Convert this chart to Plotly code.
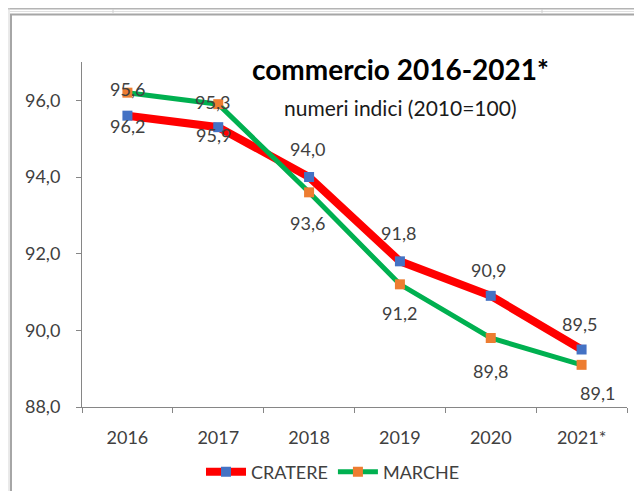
import plotly.graph_objects as go

years = ["2016", "2017", "2018", "2019", "2020", "2021*"]
cratere = [95.6, 95.3, 94.0, 91.8, 90.9, 89.5]
marche = [96.2, 95.9, 93.6, 91.2, 89.8, 89.1]
cratere_labels = ["96,2", "95,9", "94,0", "91,8", "90,9", "89,5"]
marche_labels = ["95,6", "95,3", "93,6", "91,2", "89,8", "89,1"]
y_ticks = [88, 90, 92, 94, 96]

# label offsets in pixels (style only)
cratere_dy = [-10, -8, 28, 28, 26, 26]
cratere_dx = [0, -5, -2, -1, -2, -2]
marche_dy = [4, 2, -31, -29, -33, -28]
marche_dx = [0, -6, -2, 0, 0, 16]

OFF = 8  # page body margin
W, H = 642 - OFF, 491 - OFF
# plot area in screen pixels
SL, SR, ST, SB = 82, 627, 62, 407
L, R, T, B = SL - OFF, SR - OFF, ST - OFF, SB - OFF

def px(x):
    return (x - SL) / (SR - SL)

def py(y):
    return (SB - y) / (SB - ST)

FONT = "Lato, 'Open Sans', sans-serif"
TXT = "#404040"
FS = 18

fig = go.Figure()
fig.add_trace(go.Scatter(
    x=years, y=cratere, name="CRATERE", mode="lines+markers",
    line=dict(color="#FF0000", width=8),
    marker=dict(symbol="square", size=10, color="#4472C4"),
))
fig.add_trace(go.Scatter(
    x=years, y=marche, name="MARCHE", mode="lines+markers",
    line=dict(color="#00B050", width=5),
    marker=dict(symbol="square", size=10, color="#ED7D31"),
))

ann = []
for i in range(len(years)):
    ann.append(dict(x=i, y=cratere[i], text=cratere_labels[i], showarrow=False,
                    xshift=cratere_dx[i], yshift=cratere_dy[i],
                    font=dict(family=FONT, size=FS, color=TXT)))
    ann.append(dict(x=i, y=marche[i], text=marche_labels[i], showarrow=False,
                    xshift=marche_dx[i], yshift=marche_dy[i],
                    font=dict(family=FONT, size=FS, color=TXT)))

ann.append(dict(xref="paper", yref="paper", x=px(400), y=py(50), text="<b>commercio 2016-2021*</b>",
                showarrow=False, font=dict(family=FONT, size=28, color="#000000")))
ann.append(dict(xref="paper", yref="paper", x=px(400), y=py(93), text="numeri indici (2010=100)",
                showarrow=False, font=dict(family=FONT, size=21, color="#1a1a1a")))

frame = "#a6a6a6"
shapes = [
    dict(type="line", xref="paper", yref="paper", x0=px(8), x1=px(642), y0=py(8.5), y1=py(8.5),
         line=dict(color="#b4b4b4", width=2)),
    dict(type="line", xref="paper", yref="paper", x0=px(10), x1=px(642), y0=py(11.5), y1=py(11.5),
         line=dict(color="#e0e0e0", width=1)),
    dict(type="line", xref="paper", yref="paper", x0=px(10), x1=px(642), y0=py(14.5), y1=py(14.5),
         line=dict(color=frame, width=2)),
    dict(type="line", xref="paper", yref="paper", x0=px(9), x1=px(9), y0=py(0), y1=py(491),
         line=dict(color="#d4d4d4", width=1)),
    dict(type="line", xref="paper", yref="paper", x0=px(11), x1=px(11), y0=py(14), y1=py(491),
         line=dict(color=frame, width=2)),
    dict(type="line", xref="paper", yref="paper", x0=px(113), x1=px(113), y0=py(9), y1=py(13),
         line=dict(color="#d0d0d0", width=1)),
    dict(type="line", xref="paper", yref="paper", x0=px(542), x1=px(542), y0=py(9), y1=py(13),
         line=dict(color="#d0d0d0", width=1)),
]

fig.update_layout(
    width=W, height=H,
    margin=dict(l=L, r=W - R, t=T, b=H - B, autoexpand=False),
    paper_bgcolor="white", plot_bgcolor="white",
    separators=",.",
    font=dict(family=FONT, size=FS, color=TXT),
    showlegend=True,
    legend=dict(orientation="h", x=px(333), y=py(472), xanchor="center", yanchor="middle",
                font=dict(family=FONT, size=FS, color=TXT), itemwidth=40,
                bgcolor="rgba(0,0,0,0)", tracegroupgap=0),
    annotations=ann,
    shapes=shapes,
)
fig.update_xaxes(
    type="category", range=[-0.5, 5.5], showline=True, linecolor="#868686", linewidth=1,
    ticks="outside", tickson="boundaries", ticklen=5, tickcolor="#868686",
    showgrid=False, zeroline=False, ticklabelstandoff=14, automargin=False,
    tickfont=dict(family=FONT, size=FS, color=TXT),
)
fig.update_yaxes(
    range=[88, 97], tickvals=y_ticks, tickformat=".1f", showline=True, linecolor="#868686",
    linewidth=1, ticks="outside", ticklen=5, tickcolor="#868686", showgrid=False,
    zeroline=False, ticklabelstandoff=12, automargin=False,
    tickfont=dict(family=FONT, size=FS, color=TXT),
)

fig.write_html("out.html")
